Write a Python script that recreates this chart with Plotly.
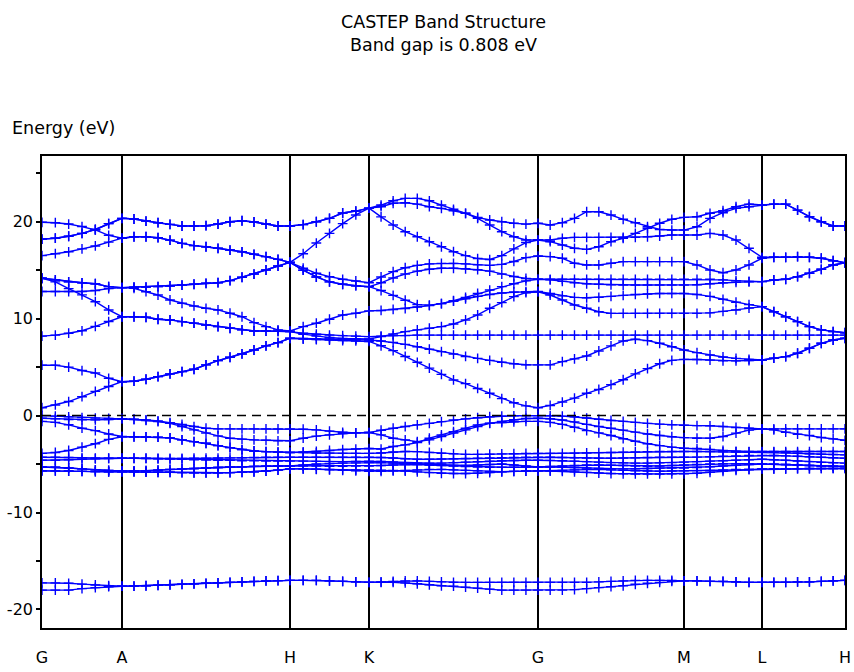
import numpy as np
import plotly.graph_objects as go

# ---------------- k-path ----------------
k_labels = ["G", "A", "H", "K", "G", "M", "L", "H"]
k_label_pos = [0.0, 0.80, 2.48, 3.27, 4.96, 6.42, 7.20, 8.03]
k_seg_intervals = [6, 14, 6, 14, 12, 6, 7]   # k-point steps per segment

# ---------------- y ticks ----------------
y_tickvals = [-20, -15, -10, -5, 0, 5, 10, 15, 20, 25]
y_ticktext = ["-20", "", "-10", "", "0", "", "10", "", "20", ""]

# ---------------- bands (eV), segments GA | AH | HK | KG | GM | ML | LH ----------------
band_l1 = [-18.0, -18.0, -18.0, -17.85, -17.75, -17.65, -17.6,
           -17.58, -17.55, -17.5, -17.45, -17.4, -17.35, -17.3, -17.25, -17.2, -17.15, -17.1, -17.05, -17.02, -17.0,
           -17.0, -17.0, -17.05, -17.1, -17.15, -17.2,
           -17.2, -17.2, -17.25, -17.35, -17.45, -17.55, -17.6, -17.7, -17.8, -17.9, -18.0, -18.0, -18.0, -18.0,
           -18.0, -18.0, -17.95, -17.85, -17.75, -17.65, -17.55, -17.4, -17.3, -17.2, -17.1, -17.05,
           -17.05, -17.1, -17.1, -17.15, -17.2, -17.2,
           -17.2, -17.2, -17.15, -17.15, -17.1, -17.05, -17.0]
band_l2 = [-17.25, -17.25, -17.3, -17.38, -17.47, -17.55, -17.6,
           -17.58, -17.55, -17.5, -17.45, -17.4, -17.35, -17.3, -17.25, -17.2, -17.15, -17.1, -17.05, -17.02, -17.0,
           -17.0, -17.0, -17.05, -17.1, -17.15, -17.2,
           -17.15, -17.1, -17.05, -17.05, -17.1, -17.15, -17.2, -17.2, -17.2, -17.2, -17.2, -17.2, -17.2, -17.2,
           -17.2, -17.2, -17.2, -17.2, -17.15, -17.1, -17.05, -17.0, -17.0, -17.0, -17.0, -17.05,
           -17.05, -17.1, -17.1, -17.15, -17.2, -17.2,
           -17.2, -17.2, -17.15, -17.15, -17.1, -17.05, -17.0]

band_v1 = [0.0, -0.05, -0.13, -0.2, -0.26, -0.3, -0.32,
           -0.36, -0.44, -0.55, -0.72, -0.92, -1.13, -1.3, -1.37, -1.37, -1.37, -1.37, -1.37, -1.37, -1.37,
           -1.4, -1.47, -1.6, -1.72, -1.78, -1.75,
           -1.51, -1.3, -1.13, -0.96, -0.8, -0.62, -0.45, -0.34, -0.22, -0.12, -0.06, -0.02, 0.0, 0.0,
           -0.02, -0.05, -0.12, -0.25, -0.38, -0.5, -0.6, -0.7, -0.8, -0.88, -0.95, -1.0,
           -1.03, -1.05, -1.13, -1.22, -1.3, -1.37,
           -1.37, -1.37, -1.37, -1.37, -1.37, -1.37, -1.37]
band_v2 = [-0.27, -0.32, -0.4, -0.44, -0.44, -0.4, -0.32,
           -0.4, -0.5, -0.62, -0.8, -1.13, -1.47, -1.8, -2.09, -2.33, -2.43, -2.5, -2.55, -2.6, -2.6,
           -2.33, -2.12, -1.99, -1.85, -1.78, -1.75,
           -1.99, -2.33, -2.5, -2.68, -2.5, -2.16, -1.81, -1.47, -1.13, -0.8, -0.6, -0.42, -0.3, -0.27,
           -0.32, -0.45, -0.65, -0.9, -1.13, -1.3, -1.5, -1.7, -1.9, -2.05, -2.18, -2.27,
           -2.33, -2.33, -2.16, -1.81, -1.5, -1.37,
           -1.47, -1.71, -1.92, -2.06, -2.26, -2.4, -2.55]
band_v3 = [-0.6, -0.7, -0.95, -1.3, -1.55, -1.9, -2.16,
           -2.18, -2.2, -2.22, -2.3, -2.5, -2.68, -2.85, -3.1, -3.3, -3.5, -3.65, -3.72, -3.77, -3.8,
           -3.75, -3.7, -3.6, -3.5, -3.45, -3.4,
           -3.45, -3.19, -3.02, -2.78, -2.33, -1.99, -1.65, -1.3, -0.96, -0.78, -0.72, -0.64, -0.6, -0.6,
           -0.7, -0.9, -1.2, -1.55, -1.78, -2.05, -2.38, -2.65, -2.9, -3.1, -3.25, -3.36,
           -3.4, -3.5, -3.6, -3.68, -3.71, -3.71,
           -3.71, -3.71, -3.71, -3.71, -3.71, -3.71, -3.71]
band_v4 = [-3.9, -3.8, -3.6, -3.25, -2.9, -2.45, -2.18,
           -2.18, -2.2, -2.22, -2.3, -2.5, -2.68, -2.85, -3.1, -3.3, -3.5, -3.65, -3.72, -3.77, -3.8,
           -3.82, -3.85, -3.87, -3.9, -3.9, -3.9,
           -3.85, -3.75, -3.7, -3.72, -3.8, -3.88, -3.95, -4.0, -4.0, -3.98, -3.95, -3.92, -3.9, -3.9,
           -3.9, -3.9, -3.88, -3.85, -3.82, -3.8, -3.78, -3.75, -3.72, -3.7, -3.7, -3.7,
           -3.7, -3.72, -3.74, -3.75, -3.75, -3.75,
           -3.78, -3.82, -3.88, -3.94, -3.99, -4.02, -4.05]
band_v5 = [-4.3, -4.3, -4.32, -4.35, -4.38, -4.4, -4.4,
           -4.4, -4.4, -4.42, -4.42, -4.42, -4.4, -4.4, -4.38, -4.36, -4.34, -4.32, -4.3, -4.3, -4.3,
           -4.3, -4.3, -4.3, -4.3, -4.3, -4.3,
           -4.32, -4.38, -4.45, -4.5, -4.5, -4.48, -4.45, -4.42, -4.4, -4.38, -4.35, -4.32, -4.3, -4.3,
           -4.3, -4.32, -4.35, -4.38, -4.4, -4.4, -4.38, -4.35, -4.32, -4.3, -4.3, -4.3,
           -4.28, -4.25, -4.2, -4.15, -4.12, -4.1,
           -4.12, -4.15, -4.2, -4.25, -4.3, -4.35, -4.4]
band_v6 = [-4.6, -4.6, -4.55, -4.5, -4.45, -4.42, -4.4,
           -4.4, -4.42, -4.45, -4.48, -4.5, -4.55, -4.58, -4.6, -4.62, -4.65, -4.67, -4.68, -4.7, -4.7,
           -4.7, -4.72, -4.75, -4.75, -4.72, -4.7,
           -4.72, -4.78, -4.85, -4.9, -4.92, -4.9, -4.85, -4.8, -4.75, -4.7, -4.66, -4.63, -4.6, -4.6,
           -4.62, -4.66, -4.7, -4.75, -4.8, -4.85, -4.88, -4.9, -4.9, -4.88, -4.85, -4.8,
           -4.75, -4.7, -4.65, -4.6, -4.55, -4.5,
           -4.55, -4.6, -4.68, -4.75, -4.82, -4.87, -4.9]
band_v7 = [-5.3, -5.33, -5.4, -5.5, -5.6, -5.66, -5.7,
           -5.7, -5.68, -5.62, -5.55, -5.5, -5.45, -5.4, -5.35, -5.3, -5.27, -5.24, -5.22, -5.2, -5.2,
           -5.2, -5.2, -5.22, -5.22, -5.2, -5.2,
           -5.15, -5.1, -5.05, -5.05, -5.1, -5.15, -5.2, -5.25, -5.3, -5.32, -5.33, -5.32, -5.3, -5.3,
           -5.3, -5.32, -5.35, -5.4, -5.45, -5.5, -5.5, -5.48, -5.45, -5.42, -5.4, -5.4,
           -5.35, -5.28, -5.2, -5.12, -5.05, -5.0,
           -5.02, -5.05, -5.1, -5.15, -5.2, -5.23, -5.25]
band_v8 = [-5.7, -5.7, -5.72, -5.75, -5.78, -5.8, -5.8,
           -5.8, -5.82, -5.85, -5.85, -5.88, -5.9, -5.9, -5.9, -5.88, -5.85, -5.8, -5.72, -5.62, -5.5,
           -5.5, -5.52, -5.55, -5.58, -5.6, -5.6,
           -5.62, -5.66, -5.72, -5.8, -5.88, -5.95, -5.98, -5.98, -5.95, -5.88, -5.8, -5.75, -5.72, -5.7,
           -5.72, -5.75, -5.8, -5.86, -5.92, -5.97, -6.0, -6.02, -6.02, -6.02, -6.0, -6.0,
           -5.95, -5.85, -5.75, -5.65, -5.58, -5.5,
           -5.5, -5.48, -5.47, -5.46, -5.45, -5.45, -5.45]
band_v9 = [-5.3, -5.33, -5.4, -5.5, -5.6, -5.66, -5.7,
           -5.7, -5.68, -5.62, -5.55, -5.5, -5.45, -5.4, -5.35, -5.3, -5.27, -5.24, -5.22, -5.2, -5.2,
           -5.1, -5.0, -4.95, -4.9, -4.88, -4.85,
           -4.85, -4.9, -4.95, -5.0, -5.05, -5.1, -5.15, -5.15, -5.1, -5.05, -5.0, -5.1, -5.2, -5.3,
           -5.25, -5.2, -5.15, -5.1, -5.1, -5.12, -5.15, -5.2, -5.22, -5.2, -5.15, -5.1,
           -5.05, -5.0, -4.97, -4.95, -4.97, -5.0,
           -5.02, -5.05, -5.1, -5.15, -5.2, -5.23, -5.25]
band_v10 = [-5.7, -5.7, -5.72, -5.75, -5.78, -5.8, -5.8,
            -5.8, -5.82, -5.85, -5.85, -5.88, -5.9, -5.9, -5.9, -5.88, -5.85, -5.8, -5.72, -5.62, -5.5,
            -5.5, -5.55, -5.6, -5.65, -5.7, -5.75,
            -5.75, -5.7, -5.65, -5.6, -5.55, -5.55, -5.6, -5.65, -5.7, -5.75, -5.78, -5.75, -5.72, -5.7,
            -5.68, -5.65, -5.6, -5.55, -5.55, -5.6, -5.65, -5.7, -5.72, -5.74, -5.72, -5.7,
            -5.68, -5.65, -5.6, -5.55, -5.52, -5.5,
            -5.5, -5.48, -5.47, -5.46, -5.45, -5.45, -5.45]

band_c1 = [0.81, 1.1, 1.45, 1.95, 2.5, 3.0, 3.5,
           3.55, 3.75, 4.02, 4.3, 4.54, 4.78, 5.23, 5.67, 6.02, 6.36, 6.77, 7.19, 7.53, 7.98,
           7.9, 7.85, 7.8, 7.75, 7.7, 7.65,
           7.2, 6.7, 6.1, 5.5, 4.9, 4.25, 3.68, 3.3, 2.8, 2.3, 1.75, 1.32, 1.0, 0.81,
           1.05, 1.4, 1.8, 2.3, 2.7, 3.2, 3.7, 4.3, 4.85, 5.35, 5.7, 5.8,
           5.78, 5.72, 5.66, 5.65, 5.68, 5.74,
           5.92, 6.08, 6.43, 6.95, 7.46, 7.8, 7.98]
band_c2 = [5.2, 5.2, 5.0, 4.65, 4.4, 3.85, 3.5,
           3.55, 3.75, 4.02, 4.3, 4.54, 4.78, 5.23, 5.67, 6.02, 6.36, 6.77, 7.19, 7.53, 7.98,
           7.95, 7.92, 7.9, 7.87, 7.83, 7.8,
           7.7, 7.55, 7.35, 7.1, 6.85, 6.6, 6.35, 6.1, 5.9, 5.7, 5.5, 5.35, 5.25, 5.23,
           5.23, 5.57, 5.85, 6.15, 6.67, 7.19, 7.7, 7.88, 7.73, 7.46, 7.11, 6.77,
           6.5, 6.25, 6.05, 5.9, 5.8, 5.74,
           5.92, 6.08, 6.43, 6.95, 7.46, 7.8, 7.98]
band_c3 = [8.2, 8.3, 8.5, 8.75, 9.2, 9.7, 10.2,
           10.2, 10.14, 9.94, 9.87, 9.69, 9.53, 9.35, 9.18, 9.01, 8.84, 8.73, 8.73, 8.7, 8.66,
           8.5, 8.4, 8.3, 8.25, 8.2, 8.15,
           8.2, 8.25, 8.25, 8.3, 8.3, 8.3, 8.3, 8.3, 8.3, 8.3, 8.3, 8.3, 8.3, 8.3,
           8.3, 8.3, 8.3, 8.3, 8.3, 8.3, 8.3, 8.3, 8.3, 8.3, 8.3, 8.3,
           8.3, 8.3, 8.3, 8.3, 8.3, 8.3,
           8.3, 8.3, 8.3, 8.3, 8.3, 8.3, 8.3]
band_c4 = [14.17, 13.8, 13.1, 12.45, 11.75, 10.9, 10.2,
           10.2, 10.14, 9.94, 9.87, 9.69, 9.53, 9.35, 9.18, 9.01, 8.84, 8.73, 8.73, 8.7, 8.66,
           8.4, 8.2, 8.05, 7.95, 7.9, 7.9,
           8.15, 8.42, 8.66, 8.84, 9.01, 9.18, 9.45, 9.87, 10.38, 11.07, 11.65, 12.27, 12.68, 12.78,
           12.44, 11.93, 11.41, 11.07, 10.72, 10.55, 10.55, 10.55, 10.55, 10.55, 10.55, 10.55,
           10.55, 10.6, 10.75, 10.9, 11.1, 11.24,
           10.72, 10.2, 9.69, 9.18, 8.84, 8.66, 8.55]
band_c5 = [12.8, 12.8, 12.8, 12.8, 12.9, 13.1, 13.2,
           13.13, 12.78, 12.44, 11.93, 11.59, 11.31, 11.07, 10.9, 10.56, 10.2, 9.59, 9.18, 8.84, 8.73,
           9.18, 9.53, 9.94, 10.38, 10.56, 10.8,
           10.85, 10.95, 11.05, 11.2, 11.35, 11.55, 11.8, 12.05, 12.3, 12.5, 12.65, 12.75, 12.78, 12.8,
           12.6, 12.35, 12.2, 12.15, 12.2, 12.3, 12.4, 12.5, 12.55, 12.6, 12.6, 12.6,
           12.5, 12.3, 12.0, 11.7, 11.45, 11.24,
           10.72, 10.2, 9.69, 9.18, 8.84, 8.66, 8.55]
band_c6 = [14.17, 14.0, 13.8, 13.7, 13.6, 13.3, 13.2,
           13.25, 13.25, 13.3, 13.37, 13.47, 13.55, 13.65, 13.71, 13.92, 14.27, 14.6, 15.02, 15.43, 15.8,
           15.0, 14.3, 13.8, 13.55, 13.4, 13.3,
           13.7, 14.2, 14.6, 14.9, 15.1, 15.2, 15.2, 15.15, 15.05, 14.9, 14.6, 14.35, 14.15, 14.06,
           14.06, 14.06, 14.06, 14.06, 14.06, 14.06, 14.06, 14.06, 14.06, 14.06, 14.06, 14.06,
           14.06, 14.06, 14.0, 13.92, 13.85, 13.82,
           13.99, 14.06, 14.33, 14.68, 15.09, 15.54, 15.77]
band_c7 = [14.17, 14.0, 13.8, 13.7, 13.6, 13.3, 13.2,
           13.25, 13.25, 13.3, 13.37, 13.47, 13.55, 13.65, 13.71, 13.92, 14.27, 14.6, 15.02, 15.43, 15.8,
           15.0, 14.3, 13.8, 13.55, 13.4, 13.3,
           12.9, 12.4, 11.9, 11.45, 11.4, 11.55, 11.85, 12.2, 12.6, 12.95, 13.3, 13.6, 13.9, 14.06,
           14.0, 13.85, 13.7, 13.6, 13.55, 13.5, 13.47, 13.47, 13.47, 13.47, 13.47, 13.47,
           13.5, 13.6, 13.7, 13.75, 13.8, 13.82,
           13.99, 14.06, 14.33, 14.68, 15.09, 15.54, 15.77]
band_c8 = [16.5, 16.7, 16.9, 17.2, 17.5, 17.9, 18.3,
           18.45, 18.45, 18.35, 18.1, 17.77, 17.53, 17.42, 17.26, 17.08, 16.9, 16.64, 16.4, 16.12, 15.8,
           15.2, 14.68, 14.33, 14.06, 13.89, 13.71,
           14.3, 14.85, 15.25, 15.5, 15.65, 15.7, 15.7, 15.65, 15.55, 15.5, 15.6, 15.9, 16.3, 16.46,
           16.4, 16.23, 15.71, 15.54, 15.54, 15.71, 15.88, 15.88, 15.88, 15.88, 15.88, 15.88,
           15.54, 15.02, 14.74, 15.02, 15.54, 16.23,
           16.33, 16.33, 16.4, 16.33, 16.23, 15.98, 15.77]
band_c9 = [19.94, 19.9, 19.76, 19.5, 19.15, 18.6, 18.3,
           18.45, 18.45, 18.35, 18.1, 17.77, 17.53, 17.42, 17.26, 17.08, 16.9, 16.64, 16.4, 16.12, 15.8,
           16.7, 17.8, 18.8, 19.8, 20.7, 21.4,
           20.5, 19.66, 18.97, 18.45, 17.94, 17.42, 16.91, 16.5, 16.2, 16.1, 16.5, 17.2, 17.85, 18.11,
           18.11, 18.29, 18.39, 18.39, 18.39, 18.39, 18.39, 18.39, 18.45, 18.52, 18.63, 18.63,
           18.63, 18.8, 18.63, 18.11, 17.26, 16.33,
           16.33, 16.33, 16.4, 16.33, 16.23, 15.98, 15.77]
band_c10 = [18.2, 18.3, 18.5, 18.8, 19.2, 19.8, 20.35,
            20.28, 20.07, 19.9, 19.73, 19.56, 19.56, 19.59, 19.76, 20.0, 20.1, 19.97, 19.76, 19.56, 19.56,
            19.7, 20.0, 20.35, 20.9, 21.1, 21.4,
            21.55, 21.9, 21.96, 21.82, 21.55, 21.38, 21.13, 20.87, 20.35, 19.66, 18.97, 18.45, 18.11, 18.11,
            17.94, 17.6, 17.26, 17.15, 17.42, 17.94, 18.29, 18.8, 19.32, 19.84, 20.25, 20.45,
            20.52, 20.87, 21.13, 21.55, 21.82, 21.72,
            21.82, 21.82, 21.2, 20.52, 20.0, 19.56, 19.56]
band_c11 = [18.2, 18.3, 18.5, 18.8, 19.2, 19.8, 20.35,
            20.28, 20.07, 19.9, 19.73, 19.56, 19.56, 19.59, 19.76, 20.0, 20.1, 19.97, 19.76, 19.56, 19.56,
            19.7, 20.0, 20.35, 20.9, 21.1, 21.4,
            21.72, 22.16, 22.41, 22.41, 22.16, 21.72, 21.28, 20.87, 20.45, 20.18, 20.0, 19.84, 19.75, 19.84,
            19.66, 19.9, 20.35, 21.03, 21.03, 20.69, 20.25, 19.9, 19.48, 19.2, 19.14, 19.14,
            19.48, 20.35, 20.93, 21.38, 21.55, 21.72,
            21.82, 21.82, 21.2, 20.52, 20.0, 19.56, 19.56]

bands = [band_l1, band_l2,
         band_v1, band_v2, band_v3, band_v4, band_v5, band_v6, band_v7, band_v8, band_v9, band_v10,
         band_c1, band_c2, band_c3, band_c4, band_c5, band_c6, band_c7, band_c8, band_c9, band_c10, band_c11]

# ---------------- k coordinates ----------------
kx = [k_label_pos[0]]
for i, n in enumerate(k_seg_intervals):
    kx.extend(np.linspace(k_label_pos[i], k_label_pos[i + 1], n + 1)[1:].tolist())

for b in bands:
    assert len(b) == len(kx), (len(b), len(kx))

BLUE = "#0000FF"
fig = go.Figure()
for b in bands:
    fig.add_trace(go.Scatter(
        x=kx, y=b, mode="lines+markers",
        line=dict(color=BLUE, width=1.4),
        marker=dict(symbol="cross-thin", size=7, color=BLUE, line=dict(color=BLUE, width=1.4)),
        showlegend=False, hoverinfo="skip"))

# Fermi level
fig.add_hline(y=0, line=dict(color="black", width=1.5, dash="9px,6px"), layer="above")

FONT = "DejaVu Sans"
yr = [-21.91, 26.78]
fig.update_layout(
    width=854, height=672,
    margin=dict(l=42, r=9, t=156, b=44, autoexpand=False),
    paper_bgcolor="white", plot_bgcolor="white",
    font=dict(family=FONT, size=16, color="black"),
    title=dict(text="CASTEP Band Structure<br>Band gap is 0.808 eV",
               x=0.5, xref="paper", xanchor="center",
               y=1 - 28 / 672, yref="container", yanchor="middle",
               font=dict(family=FONT, size=17.5, color="black")),
    xaxis=dict(range=[k_label_pos[0], k_label_pos[-1]], tickvals=k_label_pos, ticktext=k_labels,
               showgrid=True, gridcolor="black", gridwidth=1.6, automargin=False,
               showline=True, linecolor="black", linewidth=1.6, mirror=True,
               ticks="outside", ticklen=0, zeroline=False, ticklabelstandoff=14,
               tickfont=dict(family=FONT, size=16, color="black")),
    yaxis=dict(range=yr, tickvals=y_tickvals, ticktext=y_ticktext, automargin=False,
               ticks="outside", ticklen=4, tickwidth=1.5, tickcolor="black",
               showgrid=False, zeroline=False,
               showline=True, linecolor="black", linewidth=1.6, mirror=True,
               tickfont=dict(family=FONT, size=16, color="black")),
    yaxis2=dict(range=yr, overlaying="y", side="left", anchor="x", automargin=False,
                tickvals=y_tickvals, ticks="inside", ticklen=4, tickwidth=1.5, tickcolor="black",
                showticklabels=False, showgrid=False, zeroline=False, showline=False),
)

fig.add_annotation(text="Energy (eV)", xref="paper", yref="paper", x=0, y=1,
                   xanchor="left", yanchor="middle", xshift=-32, yshift=28,
                   showarrow=False, font=dict(family=FONT, size=17.5, color="black"))

fig.write_html("out.html")
